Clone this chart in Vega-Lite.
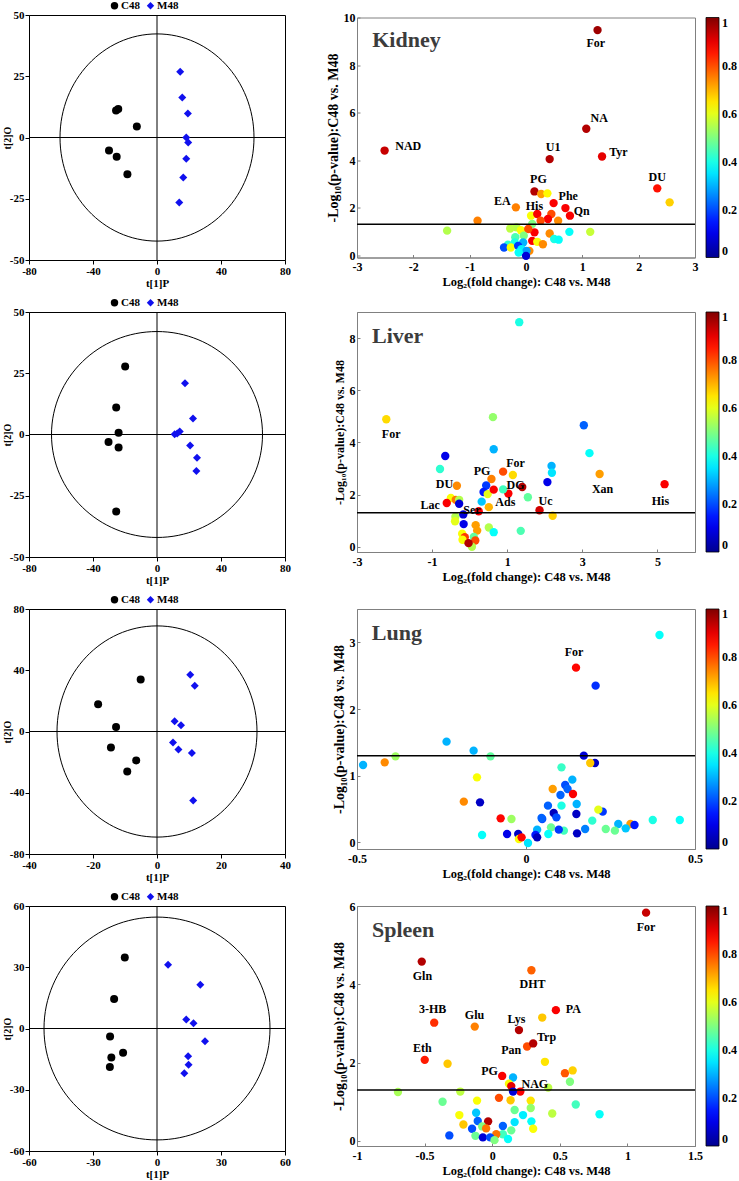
{
  "$schema": "https://vega.github.io/schema/vega-lite/v6.json",
  "padding": {"left": 1, "top": -1, "right": 0, "bottom": 0},
  "config": {
    "font": "Liberation Serif",
    "locale": {"number": {"decimal": ".", "thousands": ",", "grouping": [3], "currency": ["$", ""], "minus": "-"}},
    "view": {"stroke": "black"},
    "axis": {"grid": false, "labelFont": "Liberation Serif", "labelFontWeight": "bold", "labelColor": "black", "titleFont": "Liberation Serif", "titleFontWeight": "bold", "titleColor": "black", "labelFlush": false, "labelOverlap": false, "domainColor": "black", "tickColor": "black"},
    "legend": {"labelFont": "Liberation Serif", "labelFontWeight": "bold", "labelColor": "black"}
  },
  "datasets": {
    "pca_kidney": [
      {"group": "C48", "t1": -24.2, "t2": 11.6}, {"group": "C48", "t1": -25.6, "t2": 11.0}, {"group": "C48", "t1": -12.6, "t2": 4.5}, {"group": "C48", "t1": -30.0, "t2": -5.3}, {"group": "C48", "t1": -25.2, "t2": -7.9}, {"group": "C48", "t1": -18.5, "t2": -15.0},
      {"group": "M48", "t1": 14.5, "t2": 26.8}, {"group": "M48", "t1": 15.8, "t2": 16.3}, {"group": "M48", "t1": 19.3, "t2": 9.8}, {"group": "M48", "t1": 18.3, "t2": 0.0}, {"group": "M48", "t1": 19.5, "t2": -2.0}, {"group": "M48", "t1": 18.3, "t2": -8.7}, {"group": "M48", "t1": 16.4, "t2": -16.3}, {"group": "M48", "t1": 13.9, "t2": -26.5}
    ],
    "pca_liver": [
      {"group": "C48", "t1": -19.9, "t2": 27.8}, {"group": "C48", "t1": -25.5, "t2": 11.0}, {"group": "C48", "t1": -24.0, "t2": 0.7}, {"group": "C48", "t1": -30.3, "t2": -3.1}, {"group": "C48", "t1": -24.0, "t2": -5.3}, {"group": "C48", "t1": -25.5, "t2": -31.4},
      {"group": "M48", "t1": 17.5, "t2": 20.9}, {"group": "M48", "t1": 22.5, "t2": 6.5}, {"group": "M48", "t1": 14.2, "t2": 1.2}, {"group": "M48", "t1": 12.6, "t2": 0.4}, {"group": "M48", "t1": 11.0, "t2": 0.1}, {"group": "M48", "t1": 20.7, "t2": -4.5}, {"group": "M48", "t1": 25.0, "t2": -9.5}, {"group": "M48", "t1": 24.6, "t2": -14.9}
    ],
    "pca_lung": [
      {"group": "C48", "t1": -5.1, "t2": 34.0}, {"group": "C48", "t1": -18.4, "t2": 17.8}, {"group": "C48", "t1": -12.8, "t2": 3.0}, {"group": "C48", "t1": -14.4, "t2": -10.4}, {"group": "C48", "t1": -6.5, "t2": -18.9}, {"group": "C48", "t1": -9.3, "t2": -26.1},
      {"group": "M48", "t1": 10.4, "t2": 37.0}, {"group": "M48", "t1": 11.8, "t2": 29.8}, {"group": "M48", "t1": 5.5, "t2": 6.7}, {"group": "M48", "t1": 7.5, "t2": 4.1}, {"group": "M48", "t1": 5.0, "t2": -7.2}, {"group": "M48", "t1": 6.7, "t2": -11.8}, {"group": "M48", "t1": 10.9, "t2": -14.1}, {"group": "M48", "t1": 11.3, "t2": -45.0}
    ],
    "pca_spleen": [
      {"group": "C48", "t1": -15.1, "t2": 34.8}, {"group": "C48", "t1": -20.1, "t2": 14.4}, {"group": "C48", "t1": -22.0, "t2": -3.9}, {"group": "C48", "t1": -15.9, "t2": -11.9}, {"group": "C48", "t1": -21.4, "t2": -14.2}, {"group": "C48", "t1": -22.1, "t2": -18.9},
      {"group": "M48", "t1": 5.2, "t2": 31.2}, {"group": "M48", "t1": 20.3, "t2": 21.4}, {"group": "M48", "t1": 13.7, "t2": 4.4}, {"group": "M48", "t1": 17.1, "t2": 2.6}, {"group": "M48", "t1": 22.5, "t2": -6.2}, {"group": "M48", "t1": 14.6, "t2": -13.6}, {"group": "M48", "t1": 14.8, "t2": -17.8}, {"group": "M48", "t1": 12.8, "t2": -21.9}
    ],
    "v_kidney": [
      {"fc": 1.27, "p": 9.47, "r": 0.97}, {"fc": 1.07, "p": 5.32, "r": 0.95}, {"fc": -2.51, "p": 4.40, "r": 0.93}, {"fc": 0.42, "p": 4.04, "r": 0.95}, {"fc": 1.35, "p": 4.15, "r": 0.9}, {"fc": 2.33, "p": 2.81, "r": 0.86}, {"fc": 2.55, "p": 2.22, "r": 0.67},
      {"fc": 0.15, "p": 2.68, "r": 0.95}, {"fc": 0.27, "p": 2.57, "r": 0.72}, {"fc": 0.38, "p": 2.6, "r": 0.63}, {"fc": 0.49, "p": 2.19, "r": 0.88}, {"fc": 0.70, "p": 1.98, "r": 0.88}, {"fc": 0.78, "p": 1.66, "r": 0.88}, {"fc": -0.18, "p": 2.01, "r": 0.75}, {"fc": -0.86, "p": 1.45, "r": 0.75},
      {"fc": 0.09, "p": 1.66, "r": 0.62}, {"fc": 0.2, "p": 1.73, "r": 0.88}, {"fc": 0.45, "p": 1.73, "r": 0.8}, {"fc": 0.39, "p": 1.52, "r": 0.88}, {"fc": 0.57, "p": 1.45, "r": 0.74}, {"fc": 0.26, "p": 1.45, "r": 0.8},
      {"fc": -0.17, "p": 1.17, "r": 0.55}, {"fc": -0.09, "p": 1.05, "r": 0.62}, {"fc": -0.28, "p": 1.12, "r": 0.56}, {"fc": 0.11, "p": 1.31, "r": 0.5}, {"fc": 0.15, "p": 0.96, "r": 0.88}, {"fc": 0.77, "p": 0.98, "r": 0.38}, {"fc": 1.14, "p": 0.98, "r": 0.57}, {"fc": -1.40, "p": 1.03, "r": 0.55}, {"fc": 0.42, "p": 0.91, "r": 0.74},
      {"fc": 0.04, "p": 1.1, "r": 0.8}, {"fc": -0.04, "p": 0.82, "r": 0.5}, {"fc": -0.19, "p": 0.75, "r": 0.45}, {"fc": 0.11, "p": 0.6, "r": 0.88}, {"fc": 0.2, "p": 0.56, "r": 0.62}, {"fc": 0.3, "p": 0.46, "r": 0.74}, {"fc": 0.5, "p": 0.68, "r": 0.4}, {"fc": 0.58, "p": 0.65, "r": 0.38},
      {"fc": -0.2, "p": 0.53, "r": 0.4}, {"fc": -0.05, "p": 0.53, "r": 0.3}, {"fc": -0.32, "p": 0.44, "r": 0.42}, {"fc": -0.39, "p": 0.32, "r": 0.2}, {"fc": -0.27, "p": 0.32, "r": 0.62}, {"fc": -0.14, "p": 0.39, "r": 0.18}, {"fc": -0.08, "p": 0.25, "r": 0.36}, {"fc": 0.06, "p": 0.18, "r": 0.74}, {"fc": 0.01, "p": 0.18, "r": 0.28}, {"fc": -0.13, "p": 0.11, "r": 0.38}, {"fc": 0.0, "p": -0.03, "r": 0.08}
    ],
    "l_kidney": [
      {"name": "For", "fc": 1.24, "p": 8.93}, {"name": "NA", "fc": 1.30, "p": 5.77}, {"name": "NAD", "fc": -2.09, "p": 4.61}, {"name": "U1", "fc": 0.48, "p": 4.54}, {"name": "Tyr", "fc": 1.64, "p": 4.33}, {"name": "DU", "fc": 2.33, "p": 3.28}, {"name": "PG", "fc": 0.22, "p": 3.2}, {"name": "Phe", "fc": 0.75, "p": 2.5}, {"name": "Qn", "fc": 0.99, "p": 1.84}, {"name": "EA", "fc": -0.42, "p": 2.26}, {"name": "His", "fc": 0.15, "p": 2.07}
    ],
    "v_liver": [
      {"fc": 1.32, "p": 8.61, "r": 0.4}, {"fc": -2.22, "p": 4.89, "r": 0.66}, {"fc": 0.62, "p": 4.97, "r": 0.52}, {"fc": 3.04, "p": 4.66, "r": 0.22}, {"fc": 3.19, "p": 3.59, "r": 0.38}, {"fc": 0.64, "p": 3.74, "r": 0.3}, {"fc": -0.65, "p": 3.48, "r": 0.1}, {"fc": -0.79, "p": 2.98, "r": 0.42},
      {"fc": 2.18, "p": 3.1, "r": 0.3}, {"fc": 2.19, "p": 2.84, "r": 0.35}, {"fc": 2.07, "p": 2.48, "r": 0.1}, {"fc": 3.46, "p": 2.79, "r": 0.72}, {"fc": 5.19, "p": 2.4, "r": 0.88}, {"fc": 0.89, "p": 2.88, "r": 0.8}, {"fc": 1.15, "p": 2.75, "r": 0.66}, {"fc": 0.58, "p": 2.6, "r": 0.75},
      {"fc": 0.44, "p": 2.35, "r": 0.18}, {"fc": 1.40, "p": 2.29, "r": 0.95}, {"fc": 1.03, "p": 2.04, "r": 0.88}, {"fc": 0.89, "p": 2.2, "r": 0.44}, {"fc": 1.55, "p": 1.9, "r": 0.47}, {"fc": 0.37, "p": 2.1, "r": 0.15}, {"fc": 0.48, "p": 2.02, "r": 0.6}, {"fc": 0.64, "p": 2.19, "r": 0.88},
      {"fc": 0.32, "p": 1.73, "r": 0.32}, {"fc": 0.51, "p": 1.52, "r": 0.7}, {"fc": -0.34, "p": 2.34, "r": 0.74}, {"fc": -0.5, "p": 1.87, "r": 0.62}, {"fc": -0.37, "p": 1.8, "r": 0.76}, {"fc": -0.28, "p": 1.8, "r": 0.55}, {"fc": -0.61, "p": 1.68, "r": 0.88}, {"fc": -0.28, "p": 1.65, "r": 0.08},
      {"fc": 1.86, "p": 1.4, "r": 0.92}, {"fc": 2.21, "p": 1.19, "r": 0.67}, {"fc": 0.24, "p": 1.36, "r": 0.88}, {"fc": -0.38, "p": 1.15, "r": 0.55}, {"fc": -0.17, "p": 1.24, "r": 0.08}, {"fc": -0.39, "p": 0.98, "r": 0.6}, {"fc": -0.16, "p": 0.87, "r": 0.1}, {"fc": 0.16, "p": 0.83, "r": 0.72},
      {"fc": 0.51, "p": 0.74, "r": 0.55}, {"fc": 0.64, "p": 0.56, "r": 0.38}, {"fc": 1.36, "p": 0.61, "r": 0.45}, {"fc": -0.2, "p": 0.5, "r": 0.62}, {"fc": 0.2, "p": 0.62, "r": 0.72}, {"fc": -0.13, "p": 0.37, "r": 0.82}, {"fc": 0.11, "p": 0.38, "r": 0.47}, {"fc": -0.19, "p": 0.27, "r": 0.62}, {"fc": 0.15, "p": 0.24, "r": 0.8}, {"fc": 0.06, "p": 0.0, "r": 0.55}, {"fc": -0.03, "p": 0.14, "r": 0.95}
    ],
    "l_liver": [
      {"name": "For", "fc": -2.09, "p": 4.34}, {"name": "For", "fc": 1.22, "p": 3.22}, {"name": "PG", "fc": 0.33, "p": 2.89}, {"name": "DG", "fc": 1.22, "p": 2.38}, {"name": "DU", "fc": -0.67, "p": 2.40}, {"name": "Ads", "fc": 0.95, "p": 1.70}, {"name": "Lac", "fc": -1.05, "p": 1.62}, {"name": "Ser", "fc": 0.06, "p": 1.41}, {"name": "Uc", "fc": 2.02, "p": 1.77}, {"name": "Xan", "fc": 3.54, "p": 2.21}, {"name": "His", "fc": 5.08, "p": 1.74}
    ],
    "v_lung": [
      {"fc": 0.395, "p": 3.11, "r": 0.38}, {"fc": 0.148, "p": 2.62, "r": 0.87}, {"fc": 0.206, "p": 2.35, "r": 0.17}, {"fc": -0.235, "p": 1.51, "r": 0.3}, {"fc": -0.155, "p": 1.375, "r": 0.3}, {"fc": -0.105, "p": 1.29, "r": 0.47}, {"fc": -0.386, "p": 1.29, "r": 0.53}, {"fc": -0.418, "p": 1.2, "r": 0.74}, {"fc": -0.482, "p": 1.16, "r": 0.3},
      {"fc": 0.171, "p": 1.3, "r": 0.08}, {"fc": 0.204, "p": 1.19, "r": 0.06}, {"fc": 0.19, "p": 1.19, "r": 0.68}, {"fc": -0.145, "p": 0.975, "r": 0.62}, {"fc": -0.184, "p": 0.61, "r": 0.74}, {"fc": -0.136, "p": 0.6, "r": 0.06}, {"fc": 0.105, "p": 1.125, "r": 0.43}, {"fc": 0.137, "p": 0.94, "r": 0.3},
      {"fc": 0.116, "p": 0.86, "r": 0.2}, {"fc": 0.123, "p": 0.8, "r": 0.22}, {"fc": 0.079, "p": 0.8, "r": 0.72}, {"fc": 0.102, "p": 0.71, "r": 0.22}, {"fc": 0.139, "p": 0.725, "r": 0.88}, {"fc": 0.15, "p": 0.575, "r": 0.3}, {"fc": 0.065, "p": 0.55, "r": 0.22}, {"fc": 0.105, "p": 0.55, "r": 0.4},
      {"fc": 0.149, "p": 0.425, "r": 0.06}, {"fc": 0.227, "p": 0.46, "r": 0.18}, {"fc": 0.214, "p": 0.49, "r": 0.6}, {"fc": -0.075, "p": 0.36, "r": 0.87}, {"fc": -0.043, "p": 0.35, "r": 0.53}, {"fc": 0.082, "p": 0.44, "r": 0.05}, {"fc": 0.048, "p": 0.35, "r": 0.2}, {"fc": 0.09, "p": 0.375, "r": 0.2}, {"fc": 0.046, "p": 0.365, "r": 0.22},
      {"fc": 0.196, "p": 0.325, "r": 0.42}, {"fc": 0.375, "p": 0.335, "r": 0.4}, {"fc": 0.455, "p": 0.335, "r": 0.38}, {"fc": 0.273, "p": 0.275, "r": 0.3}, {"fc": 0.309, "p": 0.275, "r": 0.72}, {"fc": 0.321, "p": 0.26, "r": 0.15}, {"fc": 0.236, "p": 0.2, "r": 0.48}, {"fc": 0.295, "p": 0.21, "r": 0.32}, {"fc": 0.175, "p": 0.2, "r": 0.25}, {"fc": 0.263, "p": 0.175, "r": 0.48},
      {"fc": 0.074, "p": 0.225, "r": 0.48}, {"fc": 0.112, "p": 0.175, "r": 0.44}, {"fc": 0.097, "p": 0.19, "r": 0.18}, {"fc": 0.066, "p": 0.125, "r": 0.38}, {"fc": 0.033, "p": 0.19, "r": 0.3}, {"fc": 0.028, "p": 0.11, "r": 0.15}, {"fc": -0.056, "p": 0.125, "r": 0.1}, {"fc": -0.023, "p": 0.125, "r": 0.06},
      {"fc": -0.021, "p": 0.05, "r": 0.62}, {"fc": -0.013, "p": 0.075, "r": 0.87}, {"fc": -0.13, "p": 0.11, "r": 0.38}, {"fc": 0.006, "p": -0.01, "r": 0.35}, {"fc": 0.033, "p": 0.075, "r": 0.05}, {"fc": 0.151, "p": 0.135, "r": 0.06}
    ],
    "l_lung": [
      {"name": "For", "fc": 0.142, "p": 2.85}
    ],
    "v_spleen": [
      {"fc": 1.138, "p": 5.83, "r": 0.93}, {"fc": -0.521, "p": 4.58, "r": 0.95}, {"fc": 0.29, "p": 4.36, "r": 0.78}, {"fc": 0.471, "p": 3.34, "r": 0.88}, {"fc": 0.37, "p": 3.15, "r": 0.68}, {"fc": -0.429, "p": 3.02, "r": 0.83}, {"fc": -0.129, "p": 2.92, "r": 0.75}, {"fc": 0.198, "p": 2.83, "r": 0.95},
      {"fc": 0.258, "p": 2.41, "r": 0.8}, {"fc": 0.303, "p": 2.49, "r": 0.95}, {"fc": -0.499, "p": 2.07, "r": 0.85}, {"fc": -0.33, "p": 1.97, "r": 0.68}, {"fc": 0.39, "p": 2.02, "r": 0.65}, {"fc": 0.538, "p": 1.73, "r": 0.79}, {"fc": 0.595, "p": 1.8, "r": 0.67}, {"fc": 0.575, "p": 1.51, "r": 0.5},
      {"fc": 0.074, "p": 1.66, "r": 0.88}, {"fc": 0.154, "p": 1.62, "r": 0.3}, {"fc": 0.124, "p": 1.46, "r": 0.62}, {"fc": 0.141, "p": 1.4, "r": 0.9}, {"fc": 0.208, "p": 1.26, "r": 0.88}, {"fc": 0.154, "p": 1.26, "r": 0.08}, {"fc": 0.414, "p": 1.36, "r": 0.56}, {"fc": -0.697, "p": 1.25, "r": 0.54}, {"fc": -0.236, "p": 1.26, "r": 0.56},
      {"fc": -0.367, "p": 1.0, "r": 0.48}, {"fc": -0.112, "p": 1.03, "r": 0.62}, {"fc": 0.05, "p": 1.1, "r": 0.8}, {"fc": 0.136, "p": 1.04, "r": 0.68}, {"fc": 0.285, "p": 1.03, "r": 0.65}, {"fc": 0.285, "p": 0.84, "r": 0.52}, {"fc": 0.166, "p": 0.79, "r": 0.48}, {"fc": 0.618, "p": 0.93, "r": 0.44},
      {"fc": 0.444, "p": 0.7, "r": 0.56}, {"fc": 0.794, "p": 0.68, "r": 0.38}, {"fc": 0.228, "p": 0.66, "r": 0.36}, {"fc": -0.119, "p": 0.72, "r": 0.32}, {"fc": -0.243, "p": 0.66, "r": 0.62}, {"fc": 0.29, "p": 0.5, "r": 0.38}, {"fc": 0.166, "p": 0.48, "r": 0.35}, {"fc": -0.03, "p": 0.5, "r": 0.95},
      {"fc": -0.107, "p": 0.51, "r": 0.22}, {"fc": -0.213, "p": 0.42, "r": 0.68}, {"fc": -0.074, "p": 0.37, "r": 0.5}, {"fc": -0.149, "p": 0.31, "r": 0.2}, {"fc": -0.045, "p": 0.32, "r": 0.76}, {"fc": 0.079, "p": 0.38, "r": 0.22}, {"fc": 0.303, "p": 0.31, "r": 0.62}, {"fc": 0.141, "p": 0.27, "r": 0.48},
      {"fc": 0.079, "p": 0.17, "r": 0.44}, {"fc": 0.03, "p": 0.17, "r": 0.76}, {"fc": -0.317, "p": 0.14, "r": 0.2}, {"fc": -0.124, "p": 0.13, "r": 0.48}, {"fc": -0.069, "p": 0.09, "r": 0.08}, {"fc": -0.015, "p": 0.09, "r": 0.2}, {"fc": 0.117, "p": 0.05, "r": 0.38}, {"fc": 0.017, "p": 0.02, "r": 0.5}
    ],
    "l_spleen": [
      {"name": "For", "fc": 1.138, "p": 5.46}, {"name": "Gln", "fc": -0.516, "p": 4.21}, {"name": "DHT", "fc": 0.298, "p": 4.0}, {"name": "PA", "fc": 0.6, "p": 3.38}, {"name": "3-HB", "fc": -0.441, "p": 3.36}, {"name": "Glu", "fc": -0.131, "p": 3.21}, {"name": "Lys", "fc": 0.179, "p": 3.11}, {"name": "Trp", "fc": 0.402, "p": 2.66}, {"name": "Pan", "fc": 0.141, "p": 2.31}, {"name": "Eth", "fc": -0.516, "p": 2.38}, {"name": "PG", "fc": -0.02, "p": 1.78}, {"name": "NAG", "fc": 0.315, "p": 1.45}
    ]
  },
  "columns": 2,
  "bounds": "flush",
  "center": true,
  "spacing": {"row": 52, "column": 72},
  "resolve": {"scale": {"color": "independent", "shape": "independent"}},
  "concat": [
    {
      "width": 256, "height": 245,
      "data": {"name": "pca_kidney"},
      "layer": [
        {"data": {"values": [{}]}, "mark": {"type": "rule", "color": "black", "strokeWidth": 1}, "encoding": {"x": {"datum": 0}}},
        {"data": {"values": [{}]}, "mark": {"type": "rule", "color": "black", "strokeWidth": 1}, "encoding": {"y": {"datum": 0}}},
        {"data": {"values": [{}]}, "mark": {"type": "point", "shape": "M1,0C1,0.59 0.5523,1.068 0,1.068C-0.5523,1.068 -1,0.59 -1,0C-1,-0.59 -0.5523,-1.068 0,-1.068C0.5523,-1.068 1,-0.59 1,0Z", "size": 37636, "filled": false, "color": "black", "strokeWidth": 1, "opacity": 1}, "encoding": {"x": {"datum": 0}, "y": {"datum": 0}}},
        {"mark": {"type": "point", "filled": true, "size": 64, "opacity": 1},
         "encoding": {
           "x": {"field": "t1", "type": "quantitative", "scale": {"domain": [-80, 80], "nice": false, "zero": false}, "axis": {"title": "t[1]P", "values": [-80, -40, 0, 40, 80], "labelFontSize": 11, "titleFontSize": 11, "tickSize": 4, "labelPadding": 1, "titlePadding": 1}},
           "y": {"field": "t2", "type": "quantitative", "scale": {"domain": [-50, 50], "nice": false, "zero": false}, "axis": {"title": "t[2]O", "values": [-50, -25, 0, 25, 50], "labelFontSize": 11, "titleFontSize": 10, "tickSize": 4, "labelPadding": 1, "titlePadding": -3}},
           "color": {"field": "group", "type": "nominal", "scale": {"domain": ["C48", "M48"], "range": ["black", "#1010ee"]}, "legend": {"orient": "none", "legendX": 80, "legendY": -15, "direction": "horizontal", "title": null, "symbolSize": 55, "labelFontSize": 11, "labelOffset": 1, "columnPadding": 5, "symbolStrokeWidth": 0}},
           "shape": {"field": "group", "type": "nominal", "scale": {"domain": ["C48", "M48"], "range": ["circle", "diamond"]}, "legend": {"orient": "none", "legendX": 80, "legendY": -15, "direction": "horizontal", "title": null, "symbolSize": 55, "labelFontSize": 11, "labelOffset": 1, "columnPadding": 5, "symbolStrokeWidth": 0}}
         }}
      ]
    },
    {
      "width": 338, "height": 240,
      "data": {"name": "v_kidney"},
      "view": {"stroke": "#808080"},
      "layer": [
        {"mark": {"type": "circle", "size": 70, "opacity": 1},
         "encoding": {
           "x": {"field": "fc", "type": "quantitative", "scale": {"domain": [-3, 3], "nice": false, "zero": false}, "axis": {"title": "Log₂(fold change): C48 vs. M48", "values": [-3, -2, -1, 0, 1, 2, 3], "format": "d", "labelFontSize": 12, "titleFontSize": 12.5, "tickSize": -3, "labelPadding": 7, "titlePadding": 3, "domainColor": "#808080", "tickColor": "#808080"}},
           "y": {"field": "p", "type": "quantitative", "scale": {"domain": [-0.1, 10], "nice": false, "zero": false}, "axis": {"title": "-Log₁₀(p-value):C48 vs. M48", "values": [0, 2, 4, 6, 8, 10], "format": "d", "labelFontSize": 12, "titleFontSize": 14, "tickSize": -3, "labelPadding": 5, "titlePadding": 3, "domainColor": "#808080", "tickColor": "#808080"}},
           "color": {"field": "r", "type": "quantitative", "scale": {"type": "linear", "domain": [0, 0.125, 0.375, 0.625, 0.875, 1], "range": ["#00008f", "#0000ff", "#00ffff", "#ffff00", "#ff0000", "#800000"], "interpolate": "rgb"}, "legend": {"orient": "right", "offset": 11, "direction": "vertical", "gradientLength": 240, "gradientThickness": 13, "title": null, "values": [0, 0.2, 0.4, 0.6, 0.8, 1], "format": ".1~f", "labelFontSize": 12, "labelOffset": 3, "labelBaseline": "middle", "gradientStrokeColor": "black", "gradientStrokeWidth": 0.8, "labelOverlap": false}}
         }},
        {"data": {"values": [{}]}, "mark": {"type": "rule", "color": "black", "strokeWidth": 1.5}, "encoding": {"y": {"datum": 1.3}}},
        {"data": {"name": "l_kidney"}, "mark": {"type": "text", "font": "Liberation Serif", "fontWeight": "bold", "fontSize": 12, "color": "black"}, "encoding": {"x": {"field": "fc", "type": "quantitative"}, "y": {"field": "p", "type": "quantitative"}, "text": {"field": "name"}}},
        {"data": {"values": [{"panel": "Kidney"}]}, "mark": {"type": "text", "align": "left", "baseline": "alphabetic", "font": "Liberation Serif", "fontWeight": "bold", "fontSize": 22, "color": "#3c3c3c"}, "encoding": {"x": {"datum": -2.73}, "y": {"datum": 8.74}, "text": {"field": "panel"}}}
      ]
    },
    {
      "width": 256, "height": 245,
      "data": {"name": "pca_liver"},
      "layer": [
        {"data": {"values": [{}]}, "mark": {"type": "rule", "color": "black", "strokeWidth": 1}, "encoding": {"x": {"datum": 0}}},
        {"data": {"values": [{}]}, "mark": {"type": "rule", "color": "black", "strokeWidth": 1}, "encoding": {"y": {"datum": 0}}},
        {"data": {"values": [{}]}, "mark": {"type": "point", "shape": "M1,0C1,0.539 0.5523,0.976 0,0.976C-0.5523,0.976 -1,0.539 -1,0C-1,-0.539 -0.5523,-0.976 0,-0.976C0.5523,-0.976 1,-0.539 1,0Z", "size": 44521, "filled": false, "color": "black", "strokeWidth": 1, "opacity": 1}, "encoding": {"x": {"datum": 0}, "y": {"datum": 0}}},
        {"mark": {"type": "point", "filled": true, "size": 64, "opacity": 1},
         "encoding": {
           "x": {"field": "t1", "type": "quantitative", "scale": {"domain": [-80, 80], "nice": false, "zero": false}, "axis": {"title": "t[1]P", "values": [-80, -40, 0, 40, 80], "labelFontSize": 11, "titleFontSize": 11, "tickSize": 4, "labelPadding": 1, "titlePadding": 1}},
           "y": {"field": "t2", "type": "quantitative", "scale": {"domain": [-50, 50], "nice": false, "zero": false}, "axis": {"title": "t[2]O", "values": [-50, -25, 0, 25, 50], "labelFontSize": 11, "titleFontSize": 10, "tickSize": 4, "labelPadding": 1, "titlePadding": -3}},
           "color": {"field": "group", "type": "nominal", "scale": {"domain": ["C48", "M48"], "range": ["black", "#1010ee"]}, "legend": {"orient": "none", "legendX": 80, "legendY": -15, "direction": "horizontal", "title": null, "symbolSize": 55, "labelFontSize": 11, "labelOffset": 1, "columnPadding": 5, "symbolStrokeWidth": 0}},
           "shape": {"field": "group", "type": "nominal", "scale": {"domain": ["C48", "M48"], "range": ["circle", "diamond"]}, "legend": {"orient": "none", "legendX": 80, "legendY": -15, "direction": "horizontal", "title": null, "symbolSize": 55, "labelFontSize": 11, "labelOffset": 1, "columnPadding": 5, "symbolStrokeWidth": 0}}
         }}
      ]
    },
    {
      "width": 338, "height": 240,
      "data": {"name": "v_liver"},
      "view": {"stroke": "#808080"},
      "layer": [
        {"mark": {"type": "circle", "size": 70, "opacity": 1},
         "encoding": {
           "x": {"field": "fc", "type": "quantitative", "scale": {"domain": [-3, 6], "nice": false, "zero": false}, "axis": {"title": "Log₂(fold change): C48 vs. M48", "values": [-3, -2, -1, 0, 1, 2, 3, 4, 5, 6], "format": "d", "labelFontSize": 12, "titleFontSize": 12.5, "tickSize": -3, "labelPadding": 7, "titlePadding": 3, "domainColor": "#808080", "tickColor": "#808080"}},
           "y": {"field": "p", "type": "quantitative", "scale": {"domain": [-0.2, 9], "nice": false, "zero": false}, "axis": {"title": "-Log₁₀(p-value):C48 vs. M48", "values": [0, 1, 2, 3, 4, 5, 6, 7, 8, 9], "format": "d", "labelFontSize": 12, "titleFontSize": 12, "tickSize": -3, "labelPadding": 5, "titlePadding": 3, "domainColor": "#808080", "tickColor": "#808080"}},
           "color": {"field": "r", "type": "quantitative", "scale": {"type": "linear", "domain": [0, 0.125, 0.375, 0.625, 0.875, 1], "range": ["#00008f", "#0000ff", "#00ffff", "#ffff00", "#ff0000", "#800000"], "interpolate": "rgb"}, "legend": {"orient": "right", "offset": 11, "direction": "vertical", "gradientLength": 240, "gradientThickness": 13, "title": null, "values": [0, 0.2, 0.4, 0.6, 0.8, 1], "format": ".1~f", "labelFontSize": 12, "labelOffset": 3, "labelBaseline": "middle", "gradientStrokeColor": "black", "gradientStrokeWidth": 0.8, "labelOverlap": false}}
         }},
        {"data": {"values": [{}]}, "mark": {"type": "rule", "color": "black", "strokeWidth": 1.5}, "encoding": {"y": {"datum": 1.3}}},
        {"data": {"name": "l_liver"}, "mark": {"type": "text", "font": "Liberation Serif", "fontWeight": "bold", "fontSize": 12, "color": "black"}, "encoding": {"x": {"field": "fc", "type": "quantitative"}, "y": {"field": "p", "type": "quantitative"}, "text": {"field": "name"}}},
        {"data": {"values": [{"panel": "Liver"}]}, "mark": {"type": "text", "align": "left", "baseline": "alphabetic", "font": "Liberation Serif", "fontWeight": "bold", "fontSize": 22, "color": "#3c3c3c"}, "encoding": {"x": {"datum": -2.6}, "y": {"datum": 7.81}, "text": {"field": "panel"}}}
      ]
    },
    {
      "width": 256, "height": 245,
      "data": {"name": "pca_lung"},
      "layer": [
        {"data": {"values": [{}]}, "mark": {"type": "rule", "color": "black", "strokeWidth": 1}, "encoding": {"x": {"datum": 0}}},
        {"data": {"values": [{}]}, "mark": {"type": "rule", "color": "black", "strokeWidth": 1}, "encoding": {"y": {"datum": 0}}},
        {"data": {"values": [{}]}, "mark": {"type": "point", "shape": "M1,0C1,0.583 0.5523,1.056 0,1.056C-0.5523,1.056 -1,0.583 -1,0C-1,-0.583 -0.5523,-1.056 0,-1.056C0.5523,-1.056 1,-0.583 1,0Z", "size": 40000, "filled": false, "color": "black", "strokeWidth": 1, "opacity": 1}, "encoding": {"x": {"datum": 0}, "y": {"datum": 0}}},
        {"mark": {"type": "point", "filled": true, "size": 64, "opacity": 1},
         "encoding": {
           "x": {"field": "t1", "type": "quantitative", "scale": {"domain": [-40, 40], "nice": false, "zero": false}, "axis": {"title": "t[1]P", "values": [-40, -20, 0, 20, 40], "labelFontSize": 11, "titleFontSize": 11, "tickSize": 4, "labelPadding": 1, "titlePadding": 1}},
           "y": {"field": "t2", "type": "quantitative", "scale": {"domain": [-80, 80], "nice": false, "zero": false}, "axis": {"title": "t[2]O", "values": [-80, -40, 0, 40, 80], "labelFontSize": 11, "titleFontSize": 10, "tickSize": 4, "labelPadding": 1, "titlePadding": -3}},
           "color": {"field": "group", "type": "nominal", "scale": {"domain": ["C48", "M48"], "range": ["black", "#1010ee"]}, "legend": {"orient": "none", "legendX": 80, "legendY": -15, "direction": "horizontal", "title": null, "symbolSize": 55, "labelFontSize": 11, "labelOffset": 1, "columnPadding": 5, "symbolStrokeWidth": 0}},
           "shape": {"field": "group", "type": "nominal", "scale": {"domain": ["C48", "M48"], "range": ["circle", "diamond"]}, "legend": {"orient": "none", "legendX": 80, "legendY": -15, "direction": "horizontal", "title": null, "symbolSize": 55, "labelFontSize": 11, "labelOffset": 1, "columnPadding": 5, "symbolStrokeWidth": 0}}
         }}
      ]
    },
    {
      "width": 338, "height": 240,
      "data": {"name": "v_lung"},
      "view": {"stroke": "#808080"},
      "layer": [
        {"mark": {"type": "circle", "size": 70, "opacity": 1},
         "encoding": {
           "x": {"field": "fc", "type": "quantitative", "scale": {"domain": [-0.5, 0.5], "nice": false, "zero": false}, "axis": {"title": "Log₂(fold change): C48 vs. M48", "values": [-0.5, 0, 0.5], "format": "~g", "labelFontSize": 12, "titleFontSize": 12.5, "tickSize": -3, "labelPadding": 7, "titlePadding": 3, "domainColor": "#808080", "tickColor": "#808080"}},
           "y": {"field": "p", "type": "quantitative", "scale": {"domain": [-0.1, 3.5], "nice": false, "zero": false}, "axis": {"title": "-Log₁₀(p-value):C48 vs. M48", "values": [0, 0.5, 1, 1.5, 2, 2.5, 3, 3.5], "format": "~g", "labelFontSize": 12, "titleFontSize": 14, "tickSize": -3, "labelPadding": 5, "titlePadding": 3, "domainColor": "#808080", "tickColor": "#808080"}},
           "color": {"field": "r", "type": "quantitative", "scale": {"type": "linear", "domain": [0, 0.125, 0.375, 0.625, 0.875, 1], "range": ["#00008f", "#0000ff", "#00ffff", "#ffff00", "#ff0000", "#800000"], "interpolate": "rgb"}, "legend": {"orient": "right", "offset": 11, "direction": "vertical", "gradientLength": 240, "gradientThickness": 13, "title": null, "values": [0, 0.2, 0.4, 0.6, 0.8, 1], "format": ".1~f", "labelFontSize": 12, "labelOffset": 3, "labelBaseline": "middle", "gradientStrokeColor": "black", "gradientStrokeWidth": 0.8, "labelOverlap": false}}
         }},
        {"data": {"values": [{}]}, "mark": {"type": "rule", "color": "black", "strokeWidth": 1.5}, "encoding": {"y": {"datum": 1.3}}},
        {"data": {"name": "l_lung"}, "mark": {"type": "text", "font": "Liberation Serif", "fontWeight": "bold", "fontSize": 12, "color": "black"}, "encoding": {"x": {"field": "fc", "type": "quantitative"}, "y": {"field": "p", "type": "quantitative"}, "text": {"field": "name"}}},
        {"data": {"values": [{"panel": "Lung"}]}, "mark": {"type": "text", "align": "left", "baseline": "alphabetic", "font": "Liberation Serif", "fontWeight": "bold", "fontSize": 22, "color": "#3c3c3c"}, "encoding": {"x": {"datum": -0.456}, "y": {"datum": 3.035}, "text": {"field": "panel"}}}
      ]
    },
    {
      "width": 256, "height": 245,
      "data": {"name": "pca_spleen"},
      "layer": [
        {"data": {"values": [{}]}, "mark": {"type": "rule", "color": "black", "strokeWidth": 1}, "encoding": {"x": {"datum": 0}}},
        {"data": {"values": [{}]}, "mark": {"type": "rule", "color": "black", "strokeWidth": 1}, "encoding": {"y": {"datum": 0}}},
        {"data": {"values": [{}]}, "mark": {"type": "point", "shape": "M1,0C1,0.5446 0.5523,0.986 0,0.986C-0.5523,0.986 -1,0.5446 -1,0C-1,-0.5446 -0.5523,-0.986 0,-0.986C0.5523,-0.986 1,-0.5446 1,0Z", "size": 51076, "filled": false, "color": "black", "strokeWidth": 1, "opacity": 1}, "encoding": {"x": {"datum": 0}, "y": {"datum": 0}}},
        {"mark": {"type": "point", "filled": true, "size": 64, "opacity": 1},
         "encoding": {
           "x": {"field": "t1", "type": "quantitative", "scale": {"domain": [-60, 60], "nice": false, "zero": false}, "axis": {"title": "t[1]P", "values": [-60, -30, 0, 30, 60], "labelFontSize": 11, "titleFontSize": 11, "tickSize": 4, "labelPadding": 1, "titlePadding": 1}},
           "y": {"field": "t2", "type": "quantitative", "scale": {"domain": [-60, 60], "nice": false, "zero": false}, "axis": {"title": "t[2]O", "values": [-60, -30, 0, 30, 60], "labelFontSize": 11, "titleFontSize": 10, "tickSize": 4, "labelPadding": 1, "titlePadding": -3}},
           "color": {"field": "group", "type": "nominal", "scale": {"domain": ["C48", "M48"], "range": ["black", "#1010ee"]}, "legend": {"orient": "none", "legendX": 80, "legendY": -15, "direction": "horizontal", "title": null, "symbolSize": 55, "labelFontSize": 11, "labelOffset": 1, "columnPadding": 5, "symbolStrokeWidth": 0}},
           "shape": {"field": "group", "type": "nominal", "scale": {"domain": ["C48", "M48"], "range": ["circle", "diamond"]}, "legend": {"orient": "none", "legendX": 80, "legendY": -15, "direction": "horizontal", "title": null, "symbolSize": 55, "labelFontSize": 11, "labelOffset": 1, "columnPadding": 5, "symbolStrokeWidth": 0}}
         }}
      ]
    },
    {
      "width": 338, "height": 240,
      "data": {"name": "v_spleen"},
      "view": {"stroke": "#808080"},
      "layer": [
        {"mark": {"type": "circle", "size": 70, "opacity": 1},
         "encoding": {
           "x": {"field": "fc", "type": "quantitative", "scale": {"domain": [-1, 1.5], "nice": false, "zero": false}, "axis": {"title": "Log₂(fold change): C48 vs. M48", "values": [-1, -0.5, 0, 0.5, 1, 1.5], "format": "~g", "labelFontSize": 12, "titleFontSize": 12.5, "tickSize": -3, "labelPadding": 7, "titlePadding": 3, "domainColor": "#808080", "tickColor": "#808080"}},
           "y": {"field": "p", "type": "quantitative", "scale": {"domain": [-0.13, 6], "nice": false, "zero": false}, "axis": {"title": "-Log₁₀(p-value):C48 vs. M48", "values": [0, 1, 2, 3, 4, 5, 6], "format": "d", "labelFontSize": 12, "titleFontSize": 14, "tickSize": -3, "labelPadding": 5, "titlePadding": 3, "domainColor": "#808080", "tickColor": "#808080"}},
           "color": {"field": "r", "type": "quantitative", "scale": {"type": "linear", "domain": [0, 0.125, 0.375, 0.625, 0.875, 1], "range": ["#00008f", "#0000ff", "#00ffff", "#ffff00", "#ff0000", "#800000"], "interpolate": "rgb"}, "legend": {"orient": "right", "offset": 11, "direction": "vertical", "gradientLength": 240, "gradientThickness": 13, "title": null, "values": [0, 0.2, 0.4, 0.6, 0.8, 1], "format": ".1~f", "labelFontSize": 12, "labelOffset": 3, "labelBaseline": "middle", "gradientStrokeColor": "black", "gradientStrokeWidth": 0.8, "labelOverlap": false}}
         }},
        {"data": {"values": [{}]}, "mark": {"type": "rule", "color": "black", "strokeWidth": 1.5}, "encoding": {"y": {"datum": 1.3}}},
        {"data": {"name": "l_spleen"}, "mark": {"type": "text", "font": "Liberation Serif", "fontWeight": "bold", "fontSize": 12, "color": "black"}, "encoding": {"x": {"field": "fc", "type": "quantitative"}, "y": {"field": "p", "type": "quantitative"}, "text": {"field": "name"}}},
        {"data": {"values": [{"panel": "Spleen"}]}, "mark": {"type": "text", "align": "left", "baseline": "alphabetic", "font": "Liberation Serif", "fontWeight": "bold", "fontSize": 22, "color": "#3c3c3c"}, "encoding": {"x": {"datum": -0.889}, "y": {"datum": 5.21}, "text": {"field": "panel"}}}
      ]
    }
  ]
}
